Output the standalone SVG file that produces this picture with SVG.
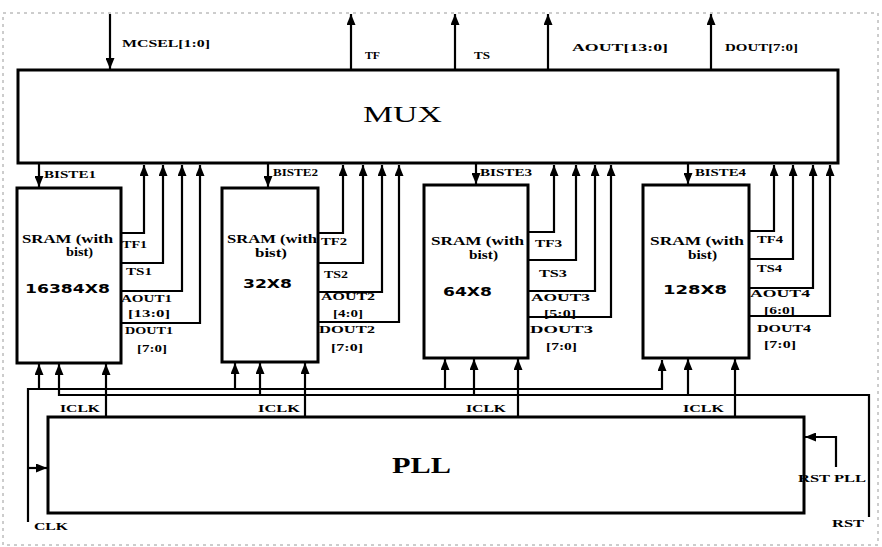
<svg xmlns="http://www.w3.org/2000/svg" width="882" height="547" viewBox="0 0 882 547">
<style>
.frame{fill:none;stroke:#9a9a9a;stroke-width:1;stroke-dasharray:3 4}
.box{fill:#fff;stroke:#000;stroke-width:3}
.w{fill:none;stroke:#000;stroke-width:2.2}
.lbl{font-family:"Liberation Serif",serif;font-weight:bold;font-size:11px;fill:#000}
.in{font-family:"Liberation Serif",serif;font-weight:bold;font-size:11.5px;fill:#000}
.sz{font-family:"DejaVu Sans",sans-serif;font-weight:bold;font-size:13px;fill:#000}
.big{font-family:"Liberation Serif",serif;font-size:23px;fill:#000}
</style>
<defs>
<marker id="ah" markerUnits="userSpaceOnUse" markerWidth="11" markerHeight="9" refX="11" refY="4.5" orient="auto">
<path d="M0,0 L11,4.5 L0,9 z" fill="#000"/>
</marker>
</defs>
<rect width="882" height="547" fill="#fff"/>
<rect class="frame" x="3" y="13" width="875" height="532"/>

<g id="mux">
<rect class="box" x="18" y="70" width="820" height="93"/>
<text class="big" x="363" y="122" textLength="79" lengthAdjust="spacingAndGlyphs">MUX</text>
</g>

<g id="sram1">
<rect class="box" x="17" y="188" width="104" height="175"/>
<text class="in" x="22" y="243" textLength="91" lengthAdjust="spacingAndGlyphs">SRAM (with</text>
<text class="in" x="66" y="256" textLength="27" lengthAdjust="spacingAndGlyphs">bist)</text>
<text class="sz" x="25" y="293" textLength="85" lengthAdjust="spacingAndGlyphs">16384X8</text>
</g>
<g id="sram2">
<rect class="box" x="222" y="188" width="96" height="174"/>
<text class="in" x="227" y="243" textLength="90" lengthAdjust="spacingAndGlyphs">SRAM (with</text>
<text class="in" x="255" y="257" textLength="32" lengthAdjust="spacingAndGlyphs">bist)</text>
<text class="sz" x="243" y="288" textLength="49" lengthAdjust="spacingAndGlyphs">32X8</text>
</g>
<g id="sram3">
<rect class="box" x="424" y="185" width="104" height="173"/>
<text class="in" x="431" y="245" textLength="93" lengthAdjust="spacingAndGlyphs">SRAM (with</text>
<text class="in" x="469" y="259" textLength="29" lengthAdjust="spacingAndGlyphs">bist)</text>
<text class="sz" x="443" y="296" textLength="49" lengthAdjust="spacingAndGlyphs">64X8</text>
</g>
<g id="sram4">
<rect class="box" x="643" y="185" width="106" height="173"/>
<text class="in" x="650" y="245" textLength="94" lengthAdjust="spacingAndGlyphs">SRAM (with</text>
<text class="in" x="688" y="259" textLength="29" lengthAdjust="spacingAndGlyphs">bist)</text>
<text class="sz" x="663" y="294" textLength="64" lengthAdjust="spacingAndGlyphs">128X8</text>
</g>

<g id="pll">
<rect class="box" x="48" y="417" width="756" height="96"/>
<text class="big" x="392" y="473" font-weight="bold" textLength="59" lengthAdjust="spacingAndGlyphs">PLL</text>
</g>

<g id="connectors">
<line class="w" x1="110" y1="14" x2="110" y2="69" marker-end="url(#ah)"/>
<line class="w" x1="351" y1="70" x2="351" y2="14" marker-end="url(#ah)"/>
<line class="w" x1="455" y1="70" x2="455" y2="14" marker-end="url(#ah)"/>
<line class="w" x1="548" y1="70" x2="548" y2="14" marker-end="url(#ah)"/>
<line class="w" x1="711" y1="70" x2="711" y2="14" marker-end="url(#ah)"/>
<line class="w" x1="39" y1="164" x2="39" y2="187" marker-end="url(#ah)"/>
<line class="w" x1="268" y1="164" x2="268" y2="187" marker-end="url(#ah)"/>
<line class="w" x1="476" y1="164" x2="476" y2="184" marker-end="url(#ah)"/>
<line class="w" x1="688" y1="164" x2="688" y2="184" marker-end="url(#ah)"/>
<polyline class="w" points="122,233 144,233 144,165" marker-end="url(#ah)"/>
<polyline class="w" points="122,263 163,263 163,165" marker-end="url(#ah)"/>
<polyline class="w" points="122,291 182,291 182,165" marker-end="url(#ah)"/>
<polyline class="w" points="122,323 200,323 200,165" marker-end="url(#ah)"/>
<polyline class="w" points="319,233 343,233 343,165" marker-end="url(#ah)"/>
<polyline class="w" points="319,263 363,263 363,165" marker-end="url(#ah)"/>
<polyline class="w" points="319,292 382,292 382,165" marker-end="url(#ah)"/>
<polyline class="w" points="319,322 399,322 399,165" marker-end="url(#ah)"/>
<polyline class="w" points="529,232 554,232 554,165" marker-end="url(#ah)"/>
<polyline class="w" points="529,260 576,260 576,165" marker-end="url(#ah)"/>
<polyline class="w" points="529,291 595,291 595,165" marker-end="url(#ah)"/>
<polyline class="w" points="529,317 611,317 611,165" marker-end="url(#ah)"/>
<polyline class="w" points="750,231 774,231 774,165" marker-end="url(#ah)"/>
<polyline class="w" points="750,259 793,259 793,165" marker-end="url(#ah)"/>
<polyline class="w" points="750,288 813,288 813,165" marker-end="url(#ah)"/>
<polyline class="w" points="750,316 830,316 830,165" marker-end="url(#ah)"/>
<polyline class="w" points="28,522 28,389 662,389 662,360" marker-end="url(#ah)"/>
<line class="w" x1="39" y1="389" x2="39" y2="364" marker-end="url(#ah)"/>
<line class="w" x1="235" y1="389" x2="235" y2="363" marker-end="url(#ah)"/>
<line class="w" x1="445" y1="389" x2="445" y2="359" marker-end="url(#ah)"/>
<line class="w" x1="28" y1="468" x2="47" y2="468" marker-end="url(#ah)"/>
<polyline class="w" points="869,517 869,395 59,395 59,364" marker-end="url(#ah)"/>
<line class="w" x1="260" y1="395" x2="260" y2="363" marker-end="url(#ah)"/>
<line class="w" x1="474" y1="395" x2="474" y2="359" marker-end="url(#ah)"/>
<line class="w" x1="688" y1="395" x2="688" y2="359" marker-end="url(#ah)"/>
<line class="w" x1="106" y1="416" x2="106" y2="364" marker-end="url(#ah)"/>
<line class="w" x1="305" y1="416" x2="305" y2="363" marker-end="url(#ah)"/>
<line class="w" x1="518" y1="416" x2="518" y2="359" marker-end="url(#ah)"/>
<line class="w" x1="735" y1="416" x2="735" y2="359" marker-end="url(#ah)"/>
<polyline class="w" points="836,467 836,437 805,437" marker-end="url(#ah)"/>
</g>

<g id="labels">
<text class="lbl" x="122" y="47" textLength="88" lengthAdjust="spacingAndGlyphs">MCSEL[1:0]</text>
<text class="lbl" x="365" y="59" textLength="15" lengthAdjust="spacingAndGlyphs">TF</text>
<text class="lbl" x="474" y="59" textLength="16" lengthAdjust="spacingAndGlyphs">TS</text>
<text class="lbl" x="572" y="51" textLength="96" lengthAdjust="spacingAndGlyphs">AOUT[13:0]</text>
<text class="lbl" x="725" y="51" textLength="73" lengthAdjust="spacingAndGlyphs">DOUT[7:0]</text>

<text class="lbl" x="44" y="178" textLength="52" lengthAdjust="spacingAndGlyphs">BISTE1</text>
<text class="lbl" x="273" y="176" textLength="45" lengthAdjust="spacingAndGlyphs">BISTE2</text>
<text class="lbl" x="480" y="176" textLength="52" lengthAdjust="spacingAndGlyphs">BISTE3</text>
<text class="lbl" x="695" y="176" textLength="51" lengthAdjust="spacingAndGlyphs">BISTE4</text>

<text class="lbl" x="122" y="248" textLength="25" lengthAdjust="spacingAndGlyphs">TF1</text>
<text class="lbl" x="126" y="275" textLength="26" lengthAdjust="spacingAndGlyphs">TS1</text>
<text class="lbl" x="121" y="302" textLength="51" lengthAdjust="spacingAndGlyphs">AOUT1</text>
<text class="lbl" x="128" y="317" textLength="42" lengthAdjust="spacingAndGlyphs">[13:0]</text>
<text class="lbl" x="125" y="334" textLength="48" lengthAdjust="spacingAndGlyphs">DOUT1</text>
<text class="lbl" x="137" y="352" textLength="30" lengthAdjust="spacingAndGlyphs">[7:0]</text>

<text class="lbl" x="321" y="245" textLength="26" lengthAdjust="spacingAndGlyphs">TF2</text>
<text class="lbl" x="324" y="278" textLength="24" lengthAdjust="spacingAndGlyphs">TS2</text>
<text class="lbl" x="321" y="300" textLength="54" lengthAdjust="spacingAndGlyphs">AOUT2</text>
<text class="lbl" x="333" y="317" textLength="30" lengthAdjust="spacingAndGlyphs">[4:0]</text>
<text class="lbl" x="319" y="333" textLength="56" lengthAdjust="spacingAndGlyphs">DOUT2</text>
<text class="lbl" x="331" y="351" textLength="32" lengthAdjust="spacingAndGlyphs">[7:0]</text>

<text class="lbl" x="535" y="247" textLength="27" lengthAdjust="spacingAndGlyphs">TF3</text>
<text class="lbl" x="539" y="277" textLength="28" lengthAdjust="spacingAndGlyphs">TS3</text>
<text class="lbl" x="531" y="301" textLength="59" lengthAdjust="spacingAndGlyphs">AOUT3</text>
<text class="lbl" x="544" y="317" textLength="32" lengthAdjust="spacingAndGlyphs">[5:0]</text>
<text class="lbl" x="530" y="333" textLength="63" lengthAdjust="spacingAndGlyphs">DOUT3</text>
<text class="lbl" x="546" y="350" textLength="31" lengthAdjust="spacingAndGlyphs">[7:0]</text>

<text class="lbl" x="757" y="243" textLength="26" lengthAdjust="spacingAndGlyphs">TF4</text>
<text class="lbl" x="757" y="272" textLength="25" lengthAdjust="spacingAndGlyphs">TS4</text>
<text class="lbl" x="750" y="297" textLength="60" lengthAdjust="spacingAndGlyphs">AOUT4</text>
<text class="lbl" x="764" y="314" textLength="31" lengthAdjust="spacingAndGlyphs">[6:0]</text>
<text class="lbl" x="757" y="332" textLength="54" lengthAdjust="spacingAndGlyphs">DOUT4</text>
<text class="lbl" x="764" y="348" textLength="32" lengthAdjust="spacingAndGlyphs">[7:0]</text>

<text class="lbl" x="60" y="412" textLength="40" lengthAdjust="spacingAndGlyphs">ICLK</text>
<text class="lbl" x="258" y="412" textLength="42" lengthAdjust="spacingAndGlyphs">ICLK</text>
<text class="lbl" x="466" y="412" textLength="40" lengthAdjust="spacingAndGlyphs">ICLK</text>
<text class="lbl" x="683" y="412" textLength="41" lengthAdjust="spacingAndGlyphs">ICLK</text>

<text class="lbl" x="34" y="530" textLength="34" lengthAdjust="spacingAndGlyphs">CLK</text>
<text class="lbl" x="832" y="527" textLength="32" lengthAdjust="spacingAndGlyphs">RST</text>
<text class="lbl" x="798" y="482" textLength="68" lengthAdjust="spacingAndGlyphs">RST PLL</text>
</g>
</svg>
